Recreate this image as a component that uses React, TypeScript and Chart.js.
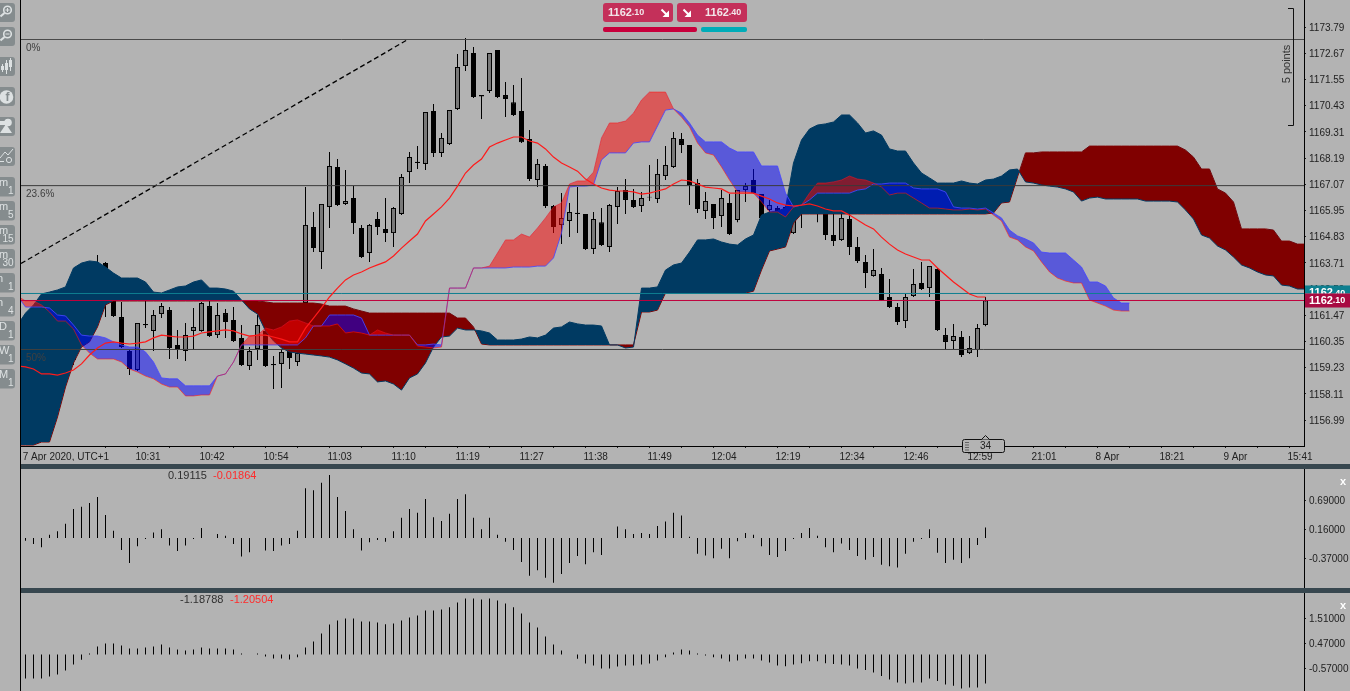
import React, { useEffect, useRef } from "react";
import { Chart, registerables } from "chart.js";

Chart.register(...registerables);

/* ---------- candles, first bar = 10:19 area, one bar per index ---------- */
const opens = [
  1160.20,1161.05,1160.62,1161.91,1160.84,1161.27,1159.56,1161.27,1162.12,1162.55,
  1163.70,1162.08,1161.39,1159.94,1159.13,1161.10,1160.80,1161.52,1161.69,1160.20,
  1159.94,1160.80,1160.80,1161.86,1160.62,1161.56,1161.27,1160.50,1159.30,1160.03,
  1160.80,1159.39,1159.39,1159.94,1159.47,1161.99,1165.24,1164.17,1166.10,1167.81,
  1166.23,1166.48,1165.20,1164.13,1165.58,1165.16,1164.98,1165.80,1167.59,1168.03,
  1167.94,1170.20,1168.41,1168.79,1170.29,1172.12,1172.68,1170.88,1171.06,1172.81,
  1170.88,1170.58,1170.20,1169.00,1167.25,1167.85,1166.14,1165.33,1165.50,1165.85,
  1165.80,1164.30,1165.45,1164.39,1166.10,1166.82,1166.40,1166.14,1166.54,1166.44,
  1167.42,1167.81,1169.00,1168.75,1167.12,1165.93,1166.23,1165.71,1166.27,1165.54,
  1166.82,1167.25,1166.65,1165.97,1166.05,1166.10,1164.98,1165.84,1165.97,1165.97,
  1165.84,1164.90,1164.69,1165.58,1164.39,1163.75,1163.15,1163.23,1162.25,1161.82,
  1161.22,1162.29,1162.85,1162.63,1163.45,1160.62,1160.37,1160.54,1159.85,1159.98,
  1161.05,
];
const closes = [
  1160.84,1160.41,1161.69,1161.05,1161.69,1162.12,1159.77,1162.33,1163.19,1163.40,
  1162.12,1161.44,1160.11,1159.17,1161.14,1161.04,1161.48,1161.86,1160.07,1159.98,
  1160.62,1160.97,1161.99,1160.58,1161.48,1161.18,1160.37,1159.34,1159.94,1161.05,
  1159.30,1159.33,1159.90,1159.64,1159.85,1165.33,1164.34,1166.23,1167.85,1166.18,
  1166.35,1165.41,1163.96,1165.33,1165.24,1164.98,1166.05,1167.38,1168.23,1167.98,
  1170.16,1168.41,1169.05,1170.24,1172.08,1172.81,1170.80,1170.82,1172.68,1170.80,
  1170.71,1170.03,1168.87,1167.29,1167.94,1166.14,1165.24,1165.63,1165.88,1165.80,
  1164.30,1165.58,1164.47,1166.18,1166.78,1166.40,1166.10,1166.48,1166.50,1167.51,
  1167.89,1169.05,1168.75,1167.04,1166.01,1166.35,1165.63,1166.48,1164.94,1166.82,
  1166.99,1166.69,1165.63,1166.18,1165.88,1165.88,1165.84,1165.97,1165.84,1165.84,
  1164.90,1164.64,1165.63,1164.39,1163.79,1163.28,1163.40,1162.12,1161.82,1161.18,
  1162.25,1162.80,1162.59,1163.57,1160.84,1160.33,1160.58,1159.77,1160.07,1160.92,
  1162.10,
];
const highs = [
  1161.27,1161.27,1161.91,1162.12,1162.12,1162.33,1160.20,1162.76,1163.40,1164.05,
  1163.75,1162.08,1162.04,1159.98,1161.14,1162.08,1161.69,1161.99,1161.82,1160.84,
  1161.14,1161.78,1162.04,1162.08,1161.99,1161.74,1161.82,1161.05,1160.11,1161.48,
  1161.05,1159.73,1160.03,1160.20,1160.20,1166.95,1165.88,1166.23,1168.45,1168.15,
  1167.68,1166.99,1165.33,1165.37,1165.88,1166.48,1166.10,1167.51,1168.45,1168.70,
  1170.16,1170.50,1169.26,1170.24,1172.64,1173.32,1172.94,1170.88,1172.68,1172.81,
  1171.44,1171.31,1171.61,1169.39,1168.15,1167.94,1166.18,1166.69,1166.27,1166.95,
  1165.80,1165.88,1166.05,1166.23,1166.95,1167.29,1166.87,1166.74,1167.89,1168.15,
  1168.70,1169.30,1169.26,1168.75,1167.29,1166.74,1166.23,1166.82,1166.65,1166.82,
  1167.12,1167.72,1166.65,1166.40,1166.14,1166.18,1165.97,1166.05,1166.05,1166.05,
  1165.97,1165.84,1165.84,1165.84,1164.81,1164.05,1164.30,1163.49,1163.02,1161.99,
  1162.38,1163.45,1163.75,1163.57,1163.49,1160.92,1161.10,1160.80,1160.58,1161.10,
  1162.25,
];
const lows = [
  1159.98,1160.20,1160.41,1160.62,1160.41,1160.84,1159.34,1160.84,1161.69,1162.12,
  1161.39,1161.39,1160.07,1158.91,1159.09,1160.92,1159.94,1161.35,1159.60,1159.60,
  1159.51,1159.98,1160.76,1160.54,1160.50,1160.50,1160.33,1159.30,1159.13,1159.56,
  1159.26,1158.32,1158.36,1159.17,1159.30,1161.95,1164.17,1163.45,1165.20,1166.14,
  1166.18,1164.94,1163.92,1163.75,1164.90,1164.60,1164.39,1165.75,1167.12,1167.72,
  1167.68,1168.23,1168.23,1168.75,1170.24,1171.91,1170.76,1169.86,1170.97,1170.76,
  1169.94,1169.99,1168.83,1167.21,1166.95,1166.05,1164.98,1164.51,1164.81,1164.98,
  1164.26,1164.09,1164.43,1164.17,1165.37,1165.80,1166.05,1165.88,1166.35,1166.27,
  1167.25,1167.76,1168.41,1166.18,1165.84,1165.58,1165.16,1165.24,1164.90,1165.45,
  1166.31,1166.65,1165.58,1165.84,1165.84,1165.84,1164.94,1165.20,1165.80,1165.45,
  1164.69,1164.43,1164.64,1164.05,1163.70,1162.63,1163.11,1162.08,1161.78,1161.05,
  1160.92,1162.25,1162.55,1162.25,1160.80,1159.98,1160.03,1159.68,1159.81,1159.68,
  1161.00,
];

/* ---------- solid Ichimoku cloud; these series start one bar before the first candle ---------- */
const spanA = [
  1161.05,
  1161.56,1161.91,1162.38,1162.46,1162.55,1162.68,1163.49,1163.70,1163.79,1163.75,
  1163.53,1163.27,1163.06,1163.06,1163.06,1162.89,1162.46,1162.42,1162.55,1162.68,
  1162.72,1162.89,1162.98,1162.63,1162.63,1162.59,1162.50,1162.12,1161.74,1161.52,
  1160.80,1160.37,1160.07,1159.90,1159.85,1159.81,1159.77,1159.73,1159.68,1159.56,
  1159.39,1159.21,1159.00,1158.96,1158.62,1158.66,1158.53,1158.27,1158.79,1158.96,
  1159.43,1160.11,1160.54,1160.58,1160.92,1160.84,1160.84,1160.80,1160.71,1160.41,
  1160.41,1160.41,1160.45,1160.54,1160.50,1160.62,1160.92,1160.97,1161.18,1161.10,
  1161.05,1161.05,1161.01,1160.20,1160.20,1160.07,1160.11,1162.63,1162.63,1162.68,
  1163.40,1163.62,1163.70,1164.17,1164.69,1164.69,1164.73,1164.60,1164.51,1164.47,
  1164.73,1164.90,1165.75,1165.88,1165.93,1166.05,1167.98,1168.96,1169.43,1169.60,
  1169.65,1169.73,1170.03,1170.03,1169.69,1169.26,1169.35,1169.17,1168.58,1168.49,
  1168.49,1167.98,1167.55,1167.34,1167.12,1167.12,1167.12,1167.21,1167.12,1167.08,
  1167.25,1167.29,1167.42,1167.68,1167.72,1167.17,1167.12,1167.04,1166.99,1166.95,
  1166.87,1166.74,1166.35,1166.48,1166.52,1166.44,1166.44,1166.44,1166.44,1166.44,
  1166.35,1166.35,1166.35,1166.35,1166.31,1165.97,1165.58,1164.90,1164.77,1164.43,
  1164.26,1163.96,1163.62,1163.49,1163.32,1163.19,1163.15,1162.76,1162.72,1162.59,
  1162.59,
];
const spanB = [
  1155.92,
  1155.92,1155.92,1156.05,1156.05,1157.12,1158.40,1159.43,1160.11,1160.33,1160.97,
  1161.91,1162.08,1162.08,1162.08,1162.08,1162.08,1162.08,1162.08,1162.08,1162.08,
  1162.08,1162.08,1162.08,1162.08,1162.08,1162.08,1162.08,1162.08,1162.08,1162.08,
  1162.04,1161.99,1161.99,1161.99,1161.99,1161.99,1161.99,1161.95,1161.86,1161.86,
  1161.86,1161.74,1161.65,1161.56,1161.56,1161.56,1161.56,1161.56,1161.56,1161.56,
  1161.56,1161.56,1161.56,1161.56,1161.35,1161.35,1160.97,1160.24,1160.20,1160.20,
  1160.20,1160.20,1160.20,1160.20,1160.20,1160.20,1160.20,1160.20,1160.20,1160.20,
  1160.20,1160.20,1160.20,1160.20,1160.20,1160.20,1160.20,1161.61,1161.61,1161.69,
  1162.42,1162.42,1162.42,1162.42,1162.42,1162.42,1162.42,1162.42,1162.42,1162.42,
  1162.42,1162.50,1163.40,1164.22,1164.30,1164.39,1165.41,1165.80,1165.80,1165.80,
  1165.80,1165.80,1165.80,1165.80,1165.80,1165.80,1165.80,1165.80,1165.80,1165.80,
  1165.80,1165.80,1165.80,1165.80,1165.80,1165.80,1165.80,1165.80,1165.80,1165.80,
  1165.80,1165.84,1166.27,1166.31,1167.38,1168.41,1168.41,1168.45,1168.45,1168.45,
  1168.45,1168.45,1168.45,1168.70,1168.70,1168.70,1168.70,1168.70,1168.70,1168.70,
  1168.70,1168.70,1168.70,1168.70,1168.70,1168.53,1168.23,1167.72,1167.72,1166.87,
  1166.69,1166.31,1165.16,1165.16,1165.16,1165.16,1165.11,1164.64,1164.64,1164.51,
  1164.51,
];

/* ---------- translucent second cloud ---------- */
const spanC = [
  1162.29,
  1161.82,1161.82,1161.82,1161.78,1161.48,1161.44,1161.05,1160.62,1160.58,1160.58,
  1160.50,1160.33,1160.20,1160.11,1160.11,1159.90,1159.47,1158.79,1158.75,1158.75,
  1158.45,1158.45,1158.45,1158.45,1158.87,1158.96,1159.47,1160.20,1160.20,1160.20,
  1160.20,1160.20,1160.20,1160.20,1160.20,1160.50,1161.01,1161.01,1161.48,1161.48,
  1161.48,1161.48,1161.35,1160.62,1160.62,1160.62,1160.62,1160.62,1160.62,1160.20,
  1160.20,1160.24,1160.20,1162.63,1162.63,1162.63,1163.49,1163.49,1163.49,1163.49,
  1163.49,1163.53,1163.53,1163.53,1163.57,1163.57,1163.92,1164.98,1166.95,1166.99,
  1166.99,1167.04,1168.11,1168.41,1168.41,1168.41,1168.83,1168.88,1168.88,1169.56,
  1170.24,1170.29,1170.11,1169.69,1169.17,1168.88,1168.88,1168.88,1168.62,1168.45,
  1168.45,1168.45,1167.85,1167.85,1167.85,1166.69,1166.10,1166.18,1166.40,1166.69,
  1166.69,1166.69,1166.69,1166.69,1166.82,1166.87,1167.08,1167.08,1167.12,1167.12,
  1167.12,1166.91,1166.87,1166.87,1166.87,1166.74,1166.10,1166.05,1166.05,1166.01,
  1166.05,1165.84,1165.63,1165.11,1164.86,1164.73,1164.56,1164.17,1164.13,1164.13,
  1164.13,1163.83,1163.53,1162.89,1162.89,1162.72,1162.21,1161.99,1161.99,
];
const spanD = [
  1162.29,
  1162.08,1162.08,1161.91,1161.61,1161.22,1161.22,1160.88,1160.20,1159.85,1159.60,
  1159.60,1159.60,1159.47,1159.17,1159.04,1158.87,1158.75,1158.53,1158.40,1158.40,
  1158.02,1158.02,1158.06,1158.06,1158.87,1158.96,1159.47,1160.20,1160.58,1160.62,
  1160.92,1160.84,1160.97,1161.22,1161.27,1161.14,1161.01,1161.01,1161.01,1161.10,
  1160.71,1160.76,1160.71,1160.62,1160.84,1160.71,1160.62,1160.62,1160.62,1160.15,
  1160.11,1160.07,1160.11,1162.63,1162.63,1162.63,1163.49,1163.49,1163.57,1164.13,
  1164.69,1164.69,1164.94,1164.81,1165.20,1165.63,1166.10,1166.27,1167.08,1167.21,
  1167.21,1167.59,1169.05,1169.69,1169.69,1169.77,1170.11,1170.67,1171.01,1171.01,
  1171.01,1170.29,1169.94,1169.52,1168.83,1168.41,1168.32,1167.81,1167.25,1166.74,
  1166.74,1166.69,1166.31,1165.88,1165.88,1165.67,1166.10,1166.18,1166.69,1167.12,
  1167.12,1167.17,1167.25,1167.42,1167.29,1167.25,1167.12,1166.95,1166.61,1166.69,
  1166.69,1166.48,1166.27,1166.05,1166.05,1166.01,1165.97,1165.97,1166.01,1165.97,
  1166.01,1165.75,1165.50,1164.81,1164.69,1164.39,1164.22,1163.75,1163.32,1163.06,
  1162.93,1162.85,1162.85,1162.12,1161.99,1161.86,1161.69,1161.65,1161.65,
];

/* ---------- red line, also one bar before the first candle ---------- */
const redLine = [
  1159.30,
  1159.26,1159.17,1158.96,1158.96,1158.91,1159.00,1159.13,1159.39,1159.77,1160.07,
  1160.28,1160.33,1160.28,1160.24,1160.28,1160.33,1160.50,1160.62,1160.58,1160.54,
  1160.54,1160.58,1160.71,1160.76,1160.80,1160.84,1160.80,1160.67,1160.58,1160.62,
  1160.62,1160.54,1160.45,1160.33,1160.33,1160.92,1161.35,1161.78,1162.25,1162.63,
  1162.98,1163.19,1163.32,1163.49,1163.62,1163.75,1164.00,1164.34,1164.64,1164.94,
  1165.50,1165.80,1166.10,1166.48,1166.99,1167.55,1167.89,1168.15,1168.66,1168.83,
  1168.96,1169.09,1169.09,1168.92,1168.83,1168.58,1168.23,1167.98,1167.81,1167.63,
  1167.29,1167.08,1166.91,1166.82,1166.78,1166.78,1166.74,1166.65,1166.69,1166.78,
  1166.87,1167.08,1167.25,1167.21,1167.08,1166.95,1166.91,1166.87,1166.69,1166.69,
  1166.69,1166.69,1166.56,1166.44,1166.27,1166.18,1166.14,1166.18,1166.23,1166.14,
  1166.01,1165.93,1165.93,1165.75,1165.54,1165.33,1165.16,1164.81,1164.51,1164.26,
  1164.09,1163.96,1163.83,1163.83,1163.49,1163.19,1162.89,1162.63,1162.38,1162.25,
  1162.25,
];

/* ---------- oscillator panes ---------- */
const osc1 = [
  -0.05,-0.11,-0.17,0.06,0.12,0.26,0.53,0.57,0.64,0.75,
  0.42,0.13,-0.22,-0.46,-0.15,-0.02,0.10,0.16,-0.14,-0.24,
  -0.14,-0.02,0.18,0,0.07,0.04,-0.11,-0.34,-0.26,0,
  -0.23,-0.24,-0.14,-0.11,0.13,0.91,0.87,1.01,1.15,0.75,
  0.49,0.16,-0.23,-0.08,-0.04,-0.07,0.12,0.37,0.53,0.46,
  0.71,0.38,0.31,0.44,0.71,0.80,0.37,0.16,0.37,0.06,
  -0.07,-0.22,-0.44,-0.69,-0.59,-0.73,-0.82,-0.66,-0.46,-0.33,
  -0.48,-0.26,-0.31,0,0.21,0.16,0.07,0.09,0.07,0.22,
  0.30,0.46,0.41,0.02,-0.29,-0.32,-0.37,-0.20,-0.37,-0.06,
  0.09,0.06,-0.15,-0.31,-0.35,-0.24,-0.02,0.09,0.18,0.04,
  -0.17,-0.26,-0.10,-0.22,-0.33,-0.40,-0.35,-0.49,-0.52,-0.54,
  -0.29,-0.07,-0.02,0.16,-0.27,-0.46,-0.40,-0.46,-0.37,-0.13,
  0.19,
];
const osc2 = [
  -1.00,-1.00,-1.00,-0.92,-0.83,-0.67,-0.42,-0.22,0.04,0.33,
  0.46,0.46,0.37,0.25,0.25,0.29,0.33,0.42,0.29,0.21,
  0.17,0.21,0.29,0.25,0.25,0.25,0.21,0.04,0,0.04,
  -0.08,-0.17,-0.17,-0.21,-0.12,0.29,0.54,0.87,1.25,1.41,
  1.50,1.50,1.37,1.37,1.33,1.26,1.29,1.41,1.54,1.62,
  1.83,1.83,1.87,1.96,2.16,2.33,2.33,2.29,2.33,2.25,
  2.12,1.96,1.71,1.33,1.12,0.75,0.42,0.17,0,-0.18,
  -0.37,-0.46,-0.58,-0.58,-0.50,-0.46,-0.46,-0.42,-0.37,-0.25,
  -0.12,0.08,0.21,0.17,0.04,-0.04,-0.12,-0.17,-0.29,-0.25,
  -0.17,-0.17,-0.25,-0.33,-0.46,-0.49,-0.42,-0.36,-0.28,-0.28,
  -0.36,-0.40,-0.42,-0.46,-0.58,-0.65,-0.75,-0.90,-1.04,-1.17,
  -1.21,-1.17,-1.17,-1.00,-1.10,-1.25,-1.30,-1.41,-1.37,-1.37,
  -1.21,
];

/* ---------- axes and labels ---------- */
const priceTicks = [1173.79,1172.67,1171.55,1170.43,1169.31,1168.19,1167.07,1165.95,1164.83,1163.71,1162.59,1161.47,1160.35,1159.23,1158.11,1156.99];
const osc1Ticks = [0.69,0.16,-0.37];
const osc2Ticks = [1.51,0.47,-0.57];
const timeLabelBars = [-0.1,14,22,30,38,46,54,62,70,78,86,94,102,110,118,126,134,142,150,158];
const timeLabels = ["7 Apr 2020, UTC+1","10:31","10:42","10:54","11:03","11:10","11:19","11:27","11:38","11:49","12:04","12:19","12:34","12:46","12:59","21:01","8 Apr","18:21","9 Apr","15:41"];
const minorTickBars = [10,18,26,34,42,50,58,66,74,82,90,98,106,114,122,130,138,146,154];
const fibLevels = [1173.257,1167.01,1160.005];
const fibLabels = ["0%","23.6%","50%"];
const bidPrice = 1162.10;
const askPrice = 1162.40;
const trendXs = [-0.56,47.8];
const trendYs = [1163.68,1173.257];
const timeframes = [["m","1"],["m","5"],["m","15"],["m","30"],["h","1"],["h","4"],["D","1"],["W","1"],["M","1"]];

const BG = "#b3b3b3";
const FONT = '"Liberation Sans"';
const TEXT = "#222222";
const xMin = -0.5625;
const xMax = 159.8125;

const pts = (arr: number[], start: number) => arr.map((y, k) => ({ x: k + start, y }));

function roundBox(ctx: CanvasRenderingContext2D, x: number, y: number, w: number, h: number, r: number) {
  ctx.beginPath();
  ctx.roundRect(x, y, w, h, r);
}

function drawSidebar(ctx: CanvasRenderingContext2D) {
  const btn = "#858c8e";
  const ink = "#dde1e2";
  ctx.save();
  ctx.beginPath();
  ctx.rect(0, 0, 15.5, 400);
  ctx.clip();
  const tops = [3, 27, 57, 87, 117, 147];
  tops.forEach((t) => {
    ctx.fillStyle = btn;
    roundBox(ctx, -8, t, 23, 19, 3);
    ctx.fill();
  });
  ctx.strokeStyle = ink;
  ctx.fillStyle = ink;
  ctx.lineWidth = 1.6;
  [10, 34].forEach((cy, n) => {
    ctx.beginPath();
    ctx.arc(7.5, cy, 3.8, 0, Math.PI * 2);
    ctx.stroke();
    ctx.lineWidth = 2;
    ctx.beginPath();
    ctx.moveTo(4.5, cy + 3);
    ctx.lineTo(0.5, cy + 6.5);
    ctx.stroke();
    ctx.lineWidth = 1;
    ctx.beginPath();
    ctx.moveTo(5.5, cy);
    ctx.lineTo(9.5, cy);
    if (n === 0) {
      ctx.moveTo(7.5, cy - 2);
      ctx.lineTo(7.5, cy + 2);
    }
    ctx.stroke();
    ctx.lineWidth = 1.6;
  });
  ctx.lineWidth = 1;
  [[2.5, 64, 72, 66, 70], [6.5, 60, 74, 63, 70], [10.5, 58, 71, 60, 67]].forEach(([x, a, b, c, d]) => {
    ctx.beginPath();
    ctx.moveTo(x, a);
    ctx.lineTo(x, b);
    ctx.stroke();
    ctx.fillRect(x - 1.5, c, 3, d - c);
  });
  ctx.beginPath();
  ctx.arc(6.5, 97, 6.8, 0, Math.PI * 2);
  ctx.fill();
  ctx.fillStyle = btn;
  ctx.font = `bold 12px ${FONT}`;
  ctx.textAlign = "center";
  ctx.textBaseline = "middle";
  ctx.fillText("f", 7.5, 98);
  ctx.fillStyle = ink;
  ctx.beginPath();
  ctx.arc(8, 122.5, 3.8, 0, Math.PI * 2);
  ctx.fill();
  ctx.beginPath();
  ctx.moveTo(0, 133);
  ctx.lineTo(6, 124);
  ctx.lineTo(12, 133);
  ctx.closePath();
  ctx.fill();
  ctx.fillRect(0, 121, 5, 4);
  ctx.lineWidth = 1;
  ctx.beginPath();
  ctx.moveTo(0, 158);
  ctx.lineTo(5, 152);
  ctx.lineTo(8, 155);
  ctx.lineTo(13, 149);
  ctx.stroke();
  ctx.beginPath();
  ctx.arc(9, 160, 2.6, 0, Math.PI * 2);
  ctx.stroke();
  ctx.fillRect(0, 161, 4, 1);
  ctx.textBaseline = "alphabetic";
  timeframes.forEach(([unit, count], n) => {
    const t = 177 + n * 24;
    ctx.fillStyle = btn;
    roundBox(ctx, -8, t, 23, 19.5, 3);
    ctx.fill();
    ctx.fillStyle = ink;
    ctx.font = `11px ${FONT}`;
    ctx.textAlign = "left";
    ctx.fillText(unit, unit === "m" ? -1 : unit === "h" ? -3 : -1, t + 9);
    ctx.textAlign = "right";
    ctx.font = `10px ${FONT}`;
    ctx.fillText(count, 13.5, t + 17);
  });
  ctx.restore();
}

function badgePrice(ctx: CanvasRenderingContext2D, value: number, x: number, y: number, big: number, small: number) {
  const [whole, frac] = value.toFixed(2).split(".");
  ctx.textAlign = "left";
  ctx.textBaseline = "middle";
  ctx.font = `bold ${big}px ${FONT}`;
  ctx.fillText(whole, x, y);
  const w = ctx.measureText(whole).width;
  ctx.font = `bold ${small}px ${FONT}`;
  ctx.fillText("." + frac, x + w, y + 0.5);
}

function arrow(ctx: CanvasRenderingContext2D, x: number, y: number) {
  ctx.fillStyle = "#ffffff";
  ctx.strokeStyle = "#ffffff";
  ctx.lineWidth = 2;
  ctx.beginPath();
  ctx.moveTo(x - 3.5, y - 3.5);
  ctx.lineTo(x + 2, y + 2);
  ctx.stroke();
  ctx.beginPath();
  ctx.moveTo(x + 4, y - 2.5);
  ctx.lineTo(x + 4, y + 4);
  ctx.lineTo(x - 2.5, y + 4);
  ctx.closePath();
  ctx.fill();
}

const mainOverlay = {
  id: "mainOverlay",
  afterDraw(chart: any) {
    const ctx: CanvasRenderingContext2D = chart.ctx;
    const ys = chart.scales.y;
    const xs = chart.scales.x;
    ctx.save();
    drawSidebar(ctx);

    // Fibonacci labels
    ctx.fillStyle = "#404040";
    ctx.font = `10px ${FONT}`;
    ctx.textAlign = "left";
    ctx.textBaseline = "middle";
    fibLevels.forEach((lvl, n) => ctx.fillText(fibLabels[n], 26, ys.getPixelForValue(lvl) + 9));

    // Right axis price tags
    const ask = ys.getPixelForValue(askPrice);
    const bid = ys.getPixelForValue(bidPrice);
    ctx.fillStyle = "#0e7f90";
    ctx.fillRect(1305, ask - 8, 45, 8);
    ctx.fillStyle = "#ffffff";
    badgePrice(ctx, askPrice, 1309, ask - 0.5, 11, 9);
    ctx.fillStyle = "#a80a42";
    ctx.fillRect(1305, bid - 7, 45, 14);
    ctx.fillStyle = "#ffffff";
    badgePrice(ctx, bidPrice, 1309, bid, 11, 9);

    // Top trade panel
    ctx.fillStyle = "#c4305a";
    roundBox(ctx, 603, 3, 70, 19, 3);
    ctx.fill();
    roundBox(ctx, 677, 3, 70, 19, 3);
    ctx.fill();
    ctx.fillStyle = "#f2e6ea";
    badgePrice(ctx, bidPrice, 608, 12.5, 11, 9);
    badgePrice(ctx, askPrice, 705, 12.5, 11, 9);
    arrow(ctx, 665, 13);
    arrow(ctx, 687, 13);
    ctx.fillStyle = "#c8003c";
    roundBox(ctx, 603, 27, 94, 5, 2);
    ctx.fill();
    ctx.fillStyle = "#00acb8";
    roundBox(ctx, 701, 27, 46, 5, 2);
    ctx.fill();

    // Spread bracket
    ctx.strokeStyle = "#111111";
    ctx.lineWidth = 1;
    ctx.beginPath();
    ctx.moveTo(1288, 8.5);
    ctx.lineTo(1293.5, 8.5);
    ctx.lineTo(1293.5, 125.5);
    ctx.lineTo(1288, 125.5);
    ctx.stroke();
    ctx.save();
    ctx.translate(1287, 64);
    ctx.rotate(-Math.PI / 2);
    ctx.fillStyle = "#333333";
    ctx.font = `11px ${FONT}`;
    ctx.textAlign = "center";
    ctx.textBaseline = "middle";
    ctx.fillText("5 points", 0, 0);
    ctx.restore();

    // Period separator tag on the time axis
    const tagX = xs.getPixelForValue(120);
    ctx.fillStyle = BG;
    ctx.strokeStyle = "#111111";
    roundBox(ctx, tagX - 23, 439.5, 42, 13, 2);
    ctx.fill();
    ctx.stroke();
    ctx.beginPath();
    ctx.moveTo(tagX - 4, 439.5);
    ctx.lineTo(tagX, 435.5);
    ctx.lineTo(tagX + 4, 439.5);
    ctx.fill();
    ctx.stroke();
    ctx.fillStyle = "#111111";
    for (let r = 0; r < 4; r++) {
      ctx.fillRect(tagX - 20, 442 + r * 2.5, 1, 1);
      ctx.fillRect(tagX - 18, 442 + r * 2.5, 1, 1);
    }
    ctx.fillStyle = TEXT;
    ctx.font = `10px ${FONT}`;
    ctx.textAlign = "center";
    ctx.fillText("34", tagX, 446.5);
    ctx.restore();
  },
};

function paneOverlay(first: string, second: string, x1: number, x2: number, y: number) {
  return {
    id: "paneOverlay",
    afterDraw(chart: any) {
      const ctx: CanvasRenderingContext2D = chart.ctx;
      ctx.save();
      ctx.textBaseline = "middle";
      ctx.textAlign = "left";
      ctx.font = `11px ${FONT}`;
      ctx.fillStyle = "#303030";
      ctx.fillText(first, x1, y);
      ctx.fillStyle = "#ff2a2a";
      ctx.fillText(second, x2, y);
      ctx.fillStyle = "#ffffff";
      ctx.font = `bold 11px ${FONT}`;
      ctx.fillText("x", 1340, 13);
      ctx.restore();
    },
  };
}

const noPadding = (s: any) => {
  s.paddingLeft = 0;
  s.paddingRight = 0;
  s.paddingTop = 0;
  s.paddingBottom = 0;
};

function yAxis(min: number, max: number, ticks: number[], digits: number) {
  return {
    type: "linear",
    position: "right",
    min,
    max,
    afterBuildTicks: (s: any) => {
      s.ticks = ticks.map((value) => ({ value }));
    },
    afterFit: (s: any) => {
      s.width = 46;
      noPadding(s);
    },
    border: { display: true, color: "#000000", width: 1 },
    grid: { drawOnChartArea: false, drawTicks: true, tickLength: 2, tickColor: "#222222" },
    ticks: {
      padding: 3,
      labelOffset: 1,
      color: TEXT,
      font: { family: "Liberation Sans", size: 10 },
      callback: (v: number) => Number(v).toFixed(digits),
    },
  };
}

function hiddenX() {
  return { type: "linear", display: false, min: xMin, max: xMax, offset: false, grid: { offset: false } };
}

function mainConfig(): any {
  const wicks = opens.map((_, i) => ({ x: i, y: [lows[i], highs[i]] }));
  const bodies = opens.map((o, i) => ({ x: i, y: [Math.min(o, closes[i]), Math.max(o, closes[i])] }));
  const bodyColors = opens.map((o, i) => (closes[i] > o ? "#787878" : "#000000"));
  const level = (v: number, color: string, order: number, borderWidth = 1) => ({
    type: "line",
    data: [{ x: xMin, y: v }, { x: xMax, y: v }],
    borderColor: color,
    borderWidth,
    pointRadius: 0,
    fill: false,
    order,
  });
  const cloudLine = (type: any) => ({ type: "line", pointRadius: 0, tension: 0, borderWidth: 1, ...type });
  return {
    type: "bar",
    data: {
      datasets: [
        { data: wicks, backgroundColor: "#000000", barThickness: 1, borderWidth: 0, inflateAmount: 0, grouped: false, order: 101 },
        { data: bodies, backgroundColor: bodyColors, borderColor: "#000000", borderWidth: 1, borderSkipped: false, barThickness: 5, inflateAmount: 0, grouped: false, order: 100 },
        cloudLine({ data: pts(spanA, -1), borderColor: "#003a62", order: 50, fill: { target: "+1", above: "#003a62", below: "#800000" } }),
        cloudLine({ data: pts(spanB, -1), borderColor: "#800000", order: 51, fill: false }),
        cloudLine({ data: pts(spanC, -1), borderColor: "rgba(70,70,255,0.85)", order: 41, fill: { target: "+1", above: "rgba(0,0,255,0.5)", below: "rgba(255,0,0,0.5)" } }),
        cloudLine({ data: pts(spanD, -1), borderColor: "rgba(255,20,20,0.55)", order: 40, fill: false }),
        cloudLine({ data: pts(redLine, -1), borderColor: "#ff1a1a", borderWidth: 1.2, order: 20, fill: false }),
        cloudLine({ data: trendXs.map((x, k) => ({ x, y: trendYs[k] })), borderColor: "#000000", borderWidth: 1.3, borderDash: [5, 3], order: 60, fill: false }),
        level(fibLevels[0], "#4a4a4a", 30),
        level(fibLevels[1], "#3a3a3a", 30),
        level(fibLevels[2], "#3f3f3f", 30),
        level(askPrice, "#0e7f90", 29),
        level(bidPrice, "#c0003c", 28),
      ],
    },
    options: {
      responsive: false,
      animation: false,
      devicePixelRatio: 1,
      layout: { autoPadding: false, padding: { left: 21, top: 0, right: 0, bottom: 0 } },
      plugins: { legend: { display: false }, tooltip: { enabled: false } },
      scales: {
        x: {
          type: "linear",
          position: "bottom",
          min: xMin,
          max: xMax,
          offset: false,
          afterBuildTicks: (s: any) => {
            s.ticks = [...timeLabelBars, ...minorTickBars].sort((a, b) => a - b).map((value) => ({ value }));
          },
          afterFit: (s: any) => {
            s.height = 15;
            noPadding(s);
          },
          border: { display: true, color: "#000000", width: 1 },
          grid: {
            offset: false,
            drawOnChartArea: false,
            drawTicks: true,
            tickLength: 2,
            tickColor: (c: any) => (c.tick && c.tick.value < 0 ? "rgba(0,0,0,0)" : "#222222"),
          },
          ticks: {
            autoSkip: false,
            maxRotation: 0,
            minRotation: 0,
            align: "start",
            labelOffset: -2,
            padding: 3,
            color: TEXT,
            font: { family: "Liberation Sans", size: 10 },
            callback: (v: number) => {
              const k = timeLabelBars.indexOf(v);
              return k >= 0 ? timeLabels[k] : "";
            },
          },
        },
        y: yAxis(1155.8795, 1174.946, priceTicks, 2),
      },
    },
    plugins: [mainOverlay],
  };
}

function paneConfig(values: number[], min: number, max: number, ticks: number[], overlay: any): any {
  return {
    type: "bar",
    data: {
      datasets: [
        { data: values.map((y, i) => ({ x: i, y })), backgroundColor: "#000000", barThickness: 1, borderWidth: 0, inflateAmount: 0, grouped: false },
      ],
    },
    options: {
      responsive: false,
      animation: false,
      devicePixelRatio: 1,
      layout: { autoPadding: false, padding: { left: 21, top: 0, right: 0, bottom: 0 } },
      plugins: { legend: { display: false }, tooltip: { enabled: false } },
      scales: { x: hiddenX(), y: yAxis(min, max, ticks, 5) },
    },
    plugins: [overlay],
  };
}

export default function App() {
  const mainRef = useRef<HTMLCanvasElement>(null);
  const aRef = useRef<HTMLCanvasElement>(null);
  const bRef = useRef<HTMLCanvasElement>(null);

  useEffect(() => {
    const charts = [
      new Chart(mainRef.current as any, mainConfig()),
      new Chart(aRef.current as any, paneConfig(osc1, -0.9155, 1.26, osc1Ticks, paneOverlay("0.19115", "-0.01864", 168, 213, 7))),
      new Chart(bRef.current as any, paneConfig(osc2, -1.519, 2.558, osc2Ticks, paneOverlay("-1.18788", "-1.20504", 180, 230, 7))),
    ];
    return () => charts.forEach((c) => c.destroy());
  }, []);

  const abs = (left: number, top: number, width: number, height: number, background?: string): React.CSSProperties => ({
    position: "absolute",
    left,
    top,
    width,
    height,
    background,
    display: "block",
  });

  return (
    <div style={{ position: "fixed", left: 0, top: 0, width: 1350, height: 691, overflow: "hidden", background: BG }}>
      <div style={abs(20, 0, 1, 691, "#000000")} />
      <div style={abs(21, 464, 1329, 5, "#37474f")} />
      <div style={abs(21, 588, 1329, 5, "#37474f")} />
      <canvas ref={mainRef} width={1350} height={461} style={abs(0, 0, 1350, 461)} />
      <canvas ref={aRef} width={1350} height={119} style={abs(0, 469, 1350, 119)} />
      <canvas ref={bRef} width={1350} height={98} style={abs(0, 593, 1350, 98)} />
    </div>
  );
}
